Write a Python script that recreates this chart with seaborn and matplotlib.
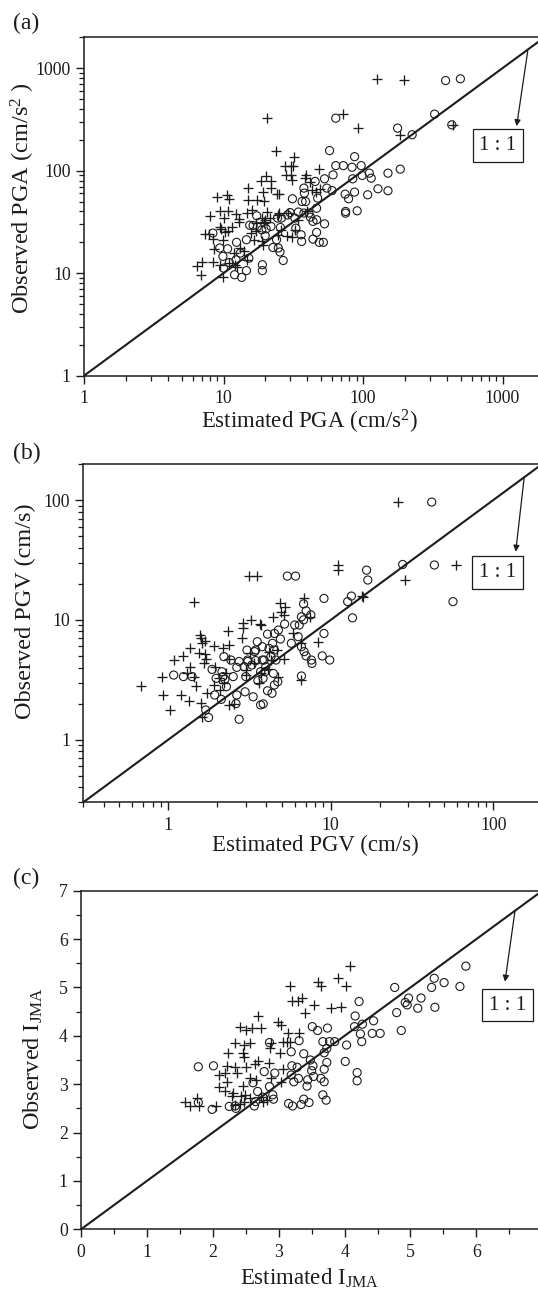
import numpy as np
import pandas as pd
import matplotlib
matplotlib.use('Agg')
import matplotlib.pyplot as plt
import seaborn as sns
from matplotlib import ticker

# ---- data: (estimated, observed) pairs ----
pga_plus = [(125.6, 780), (196, 763), (20.5, 325), (72, 358), (92, 262), (185, 224), (445, 280),
            (23.6, 157), (32, 137), (27.5, 112), (30.5, 112), (31.6, 110), (28, 91), (30.5, 90),
            (31, 81), (39, 91), (38.5, 85), (48.6, 103), (22, 80), (20.2, 88), (18.5, 78.5),
            (14.9, 67.6), (22, 67.6), (19.3, 61.4), (24, 59.5), (25, 59.5), (14.9, 52), (17.3, 51.5),
            (19.5, 51), (8.95, 54.8), (10.6, 58), (11, 53), (9.4, 40), (10.8, 40.4), (12.2, 37.7),
            (8.0, 36.3), (10, 34.9), (16.1, 41), (20.4, 39.5), (19, 34.5), (20, 33), (19.5, 31.7),
            (24.9, 38.6), (29, 39), (34.4, 33), (40, 40.6), (43, 65), (49, 66.3), (42, 77.6),
            (7.9, 24.2), (8.4, 21.5), (7.4, 24), (9.6, 26.9), (9.4, 28), (10.2, 25.2), (9.9, 21.2),
            (10.8, 26), (13, 31.5), (11.6, 28.5), (8.6, 17.3), (7.05, 12.8), (6.5, 11.8), (6.9, 9.65),
            (8.4, 12.8), (9.4, 12.1), (9.9, 9.1), (10.9, 12.6), (11.8, 15.7), (13.2, 17.6), (14, 16.3),
            (12.4, 11.4), (12, 11.9), (14.7, 13.5), (16.5, 21), (17, 26), (15.8, 24.6), (19, 20.4),
            (19.3, 18.9), (30.9, 22.5), (32.5, 26.5), (28.5, 22.9), (25.7, 26.5), (24.6, 23.7),
            (17, 30.7), (19.5, 30.7), (21.7, 34.5), (24.6, 37), (14.7, 38.5), (13, 33.6), (46, 61.4)]
pga_circ = [(391, 757), (499, 787), (63.8, 325), (326, 356), (433, 280), (177, 260), (225, 224),
            (185, 103.5), (151, 94.6), (128, 66.6), (151, 63.7), (108, 58.2), (111, 94.6), (114.5, 84.5),
            (97, 112), (98.6, 89.8), (87, 137), (83.4, 108), (84.4, 83.3), (87, 61.8), (74.5, 59),
            (78.8, 53.2), (75, 40), (75, 38.5), (90.8, 40.6), (72.3, 112), (63.8, 112), (57.6, 157),
            (61, 91), (53, 83.4), (55, 67.6), (60, 64), (45.4, 78.5), (47.3, 54), (46.5, 43), (53, 30.3),
            (46.5, 33.2), (42, 35.2), (43.8, 32), (46.5, 25), (48.6, 20), (52, 20), (43.8, 21.5),
            (37.7, 67.6), (38, 60.4), (38.8, 50), (36.6, 50), (41, 38.6), (37.7, 38.6), (34.4, 39.5),
            (31.2, 53.2), (30, 39), (32.5, 34.5), (28.8, 37), (33, 27.5), (36, 23.7), (36.3, 20.4),
            (26, 34.5), (25.6, 27.9), (24.4, 34.5), (21.9, 28.6), (20.2, 27.1), (24, 21.2), (24.7, 17.6),
            (25.4, 16.1), (26.8, 13.3), (22.6, 17.8), (19.9, 23.2), (18.8, 26.5), (17.5, 28.6),
            (16.3, 29.2), (17.3, 36.3), (15.4, 29.4), (14.6, 21.2), (12.4, 20), (10.7, 17.3), (9.9, 14.6),
            (11, 12.7), (10, 11.2), (12, 9.66), (13.5, 9.1), (14.6, 10.6), (13.2, 15.7), (15.2, 14),
            (12.3, 13.5), (19, 12.1), (19, 10.6), (8.4, 24.6), (9.4, 17.6)]

pgv_plus = [(26, 97), (11, 28.7), (11, 26), (28.6, 21.5), (58.7, 28.7), (3.15, 23.2), (3.53, 23.2),
            (1.44, 14.2), (15.8, 15.6), (6.8, 15.1), (4.88, 13.7), (4.95, 11.7), (5.15, 11), (4.43, 10.6),
            (3.23, 10), (3.65, 9.2), (3.7, 9.1), (2.9, 9.34), (2.88, 8.5), (2.34, 8.07), (2.84, 7.0),
            (2.37, 6.17), (5.87, 7.7), (1.57, 7.47), (1.6, 7.0), (1.62, 6.37), (1.69, 6.7), (1.9, 6.05),
            (1.37, 5.78), (1.55, 5.3), (1.69, 5.19), (1.7, 4.71), (1.66, 4.33), (1.23, 4.99), (1.09, 4.62),
            (1.36, 4.01), (1.31, 3.57), (1.44, 3.36), (0.91, 3.36), (0.68, 2.8), (0.93, 2.36), (1.2, 2.36),
            (1.34, 2.12), (1.02, 1.77), (1.49, 2.8), (1.58, 2.01), (1.73, 2.44), (1.61, 1.56), (1.94, 4.07),
            (1.9, 2.86), (2.07, 2.6), (2.28, 3.57), (2.37, 4.68), (2.17, 5.78), (2.37, 1.95), (2.53, 1.99),
            (3.02, 3.46), (3.02, 3.81), (3.17, 5.25), (3.36, 4.33), (4.14, 5.43), (4.28, 4.62), (4.67, 5.6),
            (5.15, 4.74), (4.76, 3.36), (3.7, 3.57), (4.08, 3.86), (5.2, 12.9), (6.56, 6.45), (8.36, 6.5),
            (15.6, 15.9), (7.5, 10.5), (6.6, 3.13), (3.6, 2.99), (2.04, 3.25), (2.2, 2.95)]
pgv_circ = [(41.8, 96.2), (27.7, 29), (43.4, 28.7), (16.6, 26), (16.9, 21.5), (5.4, 23.2), (6.07, 23.2),
            (56.5, 14.2), (13.4, 15.8), (12.7, 14.2), (13.6, 10.4), (9.08, 15.1), (6.8, 13.6), (7.05, 11.9),
            (6.6, 10.6), (6.0, 9.06), (6.4, 9.06), (6.8, 10), (7.54, 11), (9.08, 7.7), (8.86, 5), (9.85, 4.62),
            (7.6, 4.62), (7.66, 4.33), (6.6, 5.97), (6.6, 3.4), (6.85, 5.43), (7.05, 5), (6.3, 7.24),
            (5.72, 6.37), (5.2, 9.23), (4.76, 8.22), (4.5, 7.7), (4.9, 6.92), (4.38, 6.37), (4.08, 7.6),
            (4.17, 5.78), (4.5, 5.6), (4.28, 4.93), (4.6, 4.62), (3.89, 4.62), (3.53, 6.57), (3.45, 5.6),
            (3.79, 5.97), (3.45, 4.57), (3.79, 4.62), (3.4, 5.43), (3.05, 5.6), (3.08, 4.49), (3.27, 4.2),
            (3.7, 3.69), (3.98, 4.07), (4.43, 3.57), (3.94, 3.69), (3.56, 3.11), (3.83, 3.25), (4.08, 2.56),
            (4.5, 2.86), (4.35, 2.44), (3.7, 1.95), (3.84, 1.99), (3.33, 2.28), (2.97, 2.51), (3.0, 3.36),
            (2.93, 4.07), (3.08, 4.62), (2.73, 4.49), (2.64, 4.01), (2.51, 3.36), (2.43, 4.62), (2.2, 4.93),
            (2.14, 3.69), (2.17, 3.36), (1.97, 3.25), (2.12, 2.17), (1.93, 2.36), (2.28, 2.77), (2.64, 2.36),
            (2.61, 2.0), (2.73, 1.48), (1.7, 1.77), (1.77, 1.53), (1.08, 3.46), (1.24, 3.36), (1.4, 3.36),
            (2.23, 3.19), (1.86, 3.86), (4.72, 3.05)]

jma_plus = [(4.08, 5.44), (3.59, 5.12), (3.64, 5.02), (3.9, 5.19), (4.02, 5.03), (3.17, 5.02), (3.2, 4.71),
            (3.3, 4.71), (3.35, 4.78), (3.54, 4.64), (3.4, 4.47), (3.8, 4.57), (3.94, 4.6), (2.69, 4.41),
            (2.99, 4.29), (3.04, 4.22), (2.42, 4.19), (2.6, 4.16), (2.73, 4.16), (2.51, 4.12), (3.14, 4.05),
            (3.12, 3.88), (3.31, 4.05), (3.07, 3.88), (3.17, 3.88), (2.33, 3.85), (2.47, 3.81), (2.56, 3.86),
            (2.89, 3.86), (2.87, 3.74), (3.02, 3.64), (2.23, 3.64), (2.46, 3.64), (2.48, 3.57), (2.68, 3.47),
            (2.85, 3.43), (3.06, 3.31), (2.21, 3.38), (2.34, 3.36), (2.18, 3.23), (2.1, 3.19), (2.36, 3.23),
            (2.51, 3.35), (2.64, 3.42), (2.56, 3.12), (2.65, 3.09), (2.21, 3.05), (2.09, 2.95), (2.19, 2.85),
            (2.46, 2.96), (2.89, 3.12), (3.03, 3.05), (2.31, 2.81), (2.29, 2.76), (2.43, 2.76), (2.49, 2.78),
            (2.57, 2.71), (2.73, 2.73), (2.76, 2.64), (2.83, 2.67), (2.42, 2.6), (2.48, 2.64), (1.58, 2.64),
            (1.66, 2.54), (1.79, 2.55), (1.76, 2.71), (2.05, 2.54), (2.33, 2.57)]
jma_circ = [(5.84, 5.44), (5.36, 5.19), (5.51, 5.1), (5.32, 5.0), (5.75, 5.02), (4.76, 5.0), (4.97, 4.78),
            (4.92, 4.69), (4.95, 4.64), (5.16, 4.78), (5.11, 4.57), (5.37, 4.59), (4.79, 4.48), (4.86, 4.11),
            (4.22, 4.71), (4.16, 4.41), (4.15, 4.19), (4.27, 4.24), (4.44, 4.31), (4.42, 4.05), (4.54, 4.05),
            (4.24, 4.04), (4.26, 3.88), (4.03, 3.81), (4.01, 3.47), (4.19, 3.24), (4.19, 3.07), (3.51, 4.19),
            (3.59, 4.11), (3.74, 4.16), (3.67, 3.88), (3.77, 3.88), (3.85, 3.88), (3.69, 3.65), (3.73, 3.74),
            (3.31, 3.9), (3.19, 3.67), (3.38, 3.63), (3.48, 3.5), (3.52, 3.38), (3.5, 3.28), (3.2, 3.38),
            (3.28, 3.35), (3.19, 3.19), (3.3, 3.12), (3.23, 3.05), (3.44, 3.09), (3.53, 3.16), (3.64, 3.12),
            (3.69, 3.05), (3.69, 3.31), (3.73, 3.45), (3.43, 2.96), (3.38, 2.69), (3.34, 2.58), (3.46, 2.62),
            (3.67, 2.78), (3.72, 2.67), (3.15, 2.6), (3.21, 2.55), (2.94, 3.23), (2.86, 2.95), (2.91, 2.78),
            (2.92, 2.69), (2.78, 3.26), (2.86, 3.86), (2.61, 3.03), (2.68, 2.85), (2.65, 2.64), (2.63, 2.55),
            (2.76, 2.73), (2.34, 2.55), (2.25, 2.54), (2.35, 2.5), (1.99, 2.48), (2.01, 3.38), (1.78, 3.36),
            (1.78, 2.62)]

pga_lim = [1, 2000]
pgv_lim = [0.3, 200]
jma_lim = [0, 7]

pga_major = [1, 10, 100, 1000]
pgv_major = [1, 10, 100]
jma_major = [0, 1, 2, 3, 4, 5, 6, 7]

INK = '#1c1c1c'

sns.set_theme(style='ticks')
plt.rcParams.update({
    'axes.edgecolor': INK,
    'axes.linewidth': 1.1,
    'xtick.color': INK,
    'ytick.color': INK,
    'text.color': INK,
    'axes.labelcolor': INK,
    'xtick.major.size': 5.5,
    'ytick.major.size': 5.5,
    'xtick.minor.size': 3.5,
    'ytick.minor.size': 3.5,
    'xtick.major.width': 1.0,
    'ytick.major.width': 1.0,
    'xtick.minor.width': 0.9,
    'ytick.minor.width': 0.9,
    'xtick.direction': 'out',
    'ytick.direction': 'out',
    'mathtext.fontset': 'custom',
    'mathtext.rm': 'Liberation Serif',
    'mathtext.it': 'Liberation Serif:italic',
    'mathtext.bf': 'Liberation Serif:bold',
})
plt.rcParams['font.family'] = ['Liberation Serif', 'DejaVu Serif']


def frame(pairs):
    return pd.DataFrame(pairs, columns=['est', 'obs'])


def panel(fig, rect, plus, circ, lim, major, log, xlabel, ylabel, tag, tag_y,
          ylab_xy, xlab_xy, box_xy, arrow_head, arrow_tail):
    ax = fig.add_axes(rect)
    sns.scatterplot(data=frame(plus), x='est', y='obs', marker='+', s=46,
                    color=INK, linewidth=0.95, ax=ax, zorder=3)
    sns.scatterplot(data=frame(circ), x='est', y='obs', marker='o', s=34,
                    facecolor='none', edgecolor=INK, linewidth=0.8, ax=ax, zorder=3)
    ax.plot(lim, lim, color=INK, lw=1.5, zorder=2)
    if log:
        ax.set_xscale('log')
        ax.set_yscale('log')
        for axis in (ax.xaxis, ax.yaxis):
            axis.set_major_locator(ticker.FixedLocator(major))
            axis.set_minor_locator(ticker.LogLocator(base=10, subs=np.arange(2, 10), numticks=30))
            axis.set_major_formatter(ticker.FuncFormatter(lambda v, _: f'{v:g}'))
            axis.set_minor_formatter(ticker.NullFormatter())
    else:
        for axis in (ax.xaxis, ax.yaxis):
            axis.set_major_locator(ticker.FixedLocator(major))
            axis.set_minor_locator(ticker.MultipleLocator(0.5))
    ax.set_xlim(lim)
    ax.set_ylim(lim)
    ax.tick_params(labelsize=12.8, pad=4)
    ax.tick_params(axis='x', pad=5)
    ax.set_xlabel(xlabel, fontsize=16.5)
    ax.set_ylabel(ylabel, fontsize=17.5)
    ax.yaxis.set_label_coords(*ylab_xy)
    ax.xaxis.set_label_coords(*xlab_xy)
    ax.annotate('', xy=arrow_head, xytext=arrow_tail,
                arrowprops=dict(arrowstyle='-|>', color=INK, lw=0.9,
                                mutation_scale=9, shrinkA=0, shrinkB=0))
    ax.text(box_xy[0], box_xy[1], '1 : 1', ha='center', va='center', fontsize=15,
            bbox=dict(boxstyle='square,pad=0.33', fc='white', ec=INK, lw=0.9), zorder=4)
    fig.text(13 / 538, 1 - tag_y / 1291, tag, ha='left', va='center', fontsize=17)
    return ax


W, H = 538, 1291
fig = plt.figure(figsize=(W / 100, H / 100), dpi=100)


def rect(left, right, top, bottom):
    return [left / W, 1 - bottom / H, (right - left) / W, (bottom - top) / H]


panel(fig, rect(84, 544.5, 37.3, 375.7), pga_plus, pga_circ, pga_lim, pga_major, True,
      'Estimated PGA (cm/s$^{2}$)', 'Observed PGA (cm/s$^{2}$ )', '(a)', 23,
      (-0.103, 0.525), (0.49, -0.095), (929, 175), (1262, 272), (1517, 1470))

panel(fig, rect(83.3, 542.2, 464, 802.3), pgv_plus, pgv_circ, pgv_lim, pgv_major, True,
      'Estimated PGV (cm/s)', 'Observed PGV (cm/s)', '(b)', 453,
      (-0.102, 0.565), (0.505, -0.095), (105.7, 24.7), (137.4, 37.1), (155, 155))

panel(fig, rect(81, 542.3, 890.7, 1229.3), jma_plus, jma_circ, jma_lim, jma_major, False,
      'Estimated I$_{\\rm JMA}$', 'Observed I$_{\\rm JMA}$', '(c)', 878,
      (-0.078, 0.506), (0.496, -0.11), (6.47, 4.637), (6.434, 5.119), (6.586, 6.586))

fig.savefig('out.png', dpi=100)
